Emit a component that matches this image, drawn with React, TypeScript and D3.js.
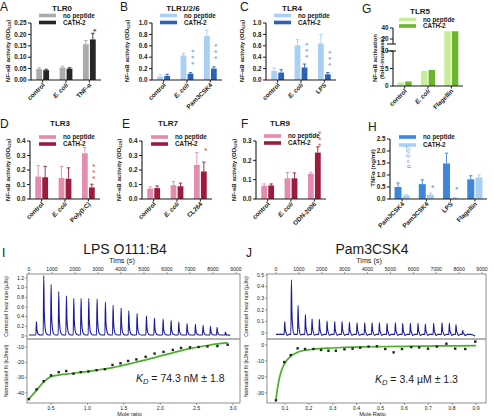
import React from "react";
import * as d3 from "d3";

const FONT = "'Liberation Sans', Arial, Helvetica, sans-serif";

// ---------------- Data: bar panels ----------------
const catsA = ["control", "E. coli", "TNF-α"];
const noPepA = [0.048, 0.054, 0.157];
const noPepErrA = [0.006, 0.006, 0.016];
const cathA = [0.043, 0.05, 0.178];
const cathErrA = [0.004, 0.004, 0.027];
const ticksA = [0, 0.05, 0.1, 0.15, 0.2, 0.25];

const catsB = ["control", "E. coli", "Pam3CSK4"];
const noPepB = [0.06, 0.43, 0.77];
const noPepErrB = [0.03, 0.04, 0.1];
const cathB = [0.07, 0.11, 0.2];
const cathErrB = [0.03, 0.02, 0.03];
const ticksB = [0, 0.2, 0.4, 0.6, 0.8, 1.0];

const catsC = ["control", "E. coli", "LPS"];
const noPepC = [0.16, 0.61, 0.64];
const noPepErrC = [0.05, 0.1, 0.16];
const cathC = [0.13, 0.22, 0.1];
const cathErrC = [0.05, 0.06, 0.03];

const catsG = ["control", "E. coli", "Flagellin"];
const noPepG = [1.0, 4.3, 34];
const cathG = [1.3, 4.6, 34];
const ticksGLow = [0, 5, 10];
const ticksGHigh = [20, 40];

const catsD = ["control", "E. coli", "Poly(I:C)"];
const noPepD = [0.155, 0.145, 0.315];
const noPepErrD = [0.075, 0.08, 0.04];
const cathD = [0.15, 0.14, 0.08];
const cathErrD = [0.075, 0.075, 0.022];
const ticksD = [0, 0.1, 0.2, 0.3, 0.4];

const catsE = ["control", "E. coli", "CL264"];
const noPepE = [0.072, 0.095, 0.235];
const noPepErrE = [0.012, 0.025, 0.085];
const cathE = [0.075, 0.088, 0.19];
const cathErrE = [0.015, 0.022, 0.065];

const catsF = ["control", "E. coli", "ODN-2006"];
const noPepF = [0.068, 0.107, 0.13];
const noPepErrF = [0.01, 0.03, 0.008];
const cathF = [0.07, 0.107, 0.24];
const cathErrF = [0.008, 0.028, 0.03];
const ticksF = [0, 0.1, 0.2, 0.3];

const catsH = ["Pam3CSK4", "Pam3CSK4", "LPS", "Flagellin"];
const noPepH = [0.5, 0.62, 1.48, 0.82];
const noPepErrH = [0.17, 0.18, 0.43, 0.15];
const cathH = [0.15, 0.18, 0.05, 0.9];
const cathErrH = [0.03, 0.07, 0.01, 0.1];
const ticksH = [0, 0.5, 1.0, 1.5, 2.0, 2.5];

const legendLabels = ["no peptide", "CATH-2"];

// ---------------- Data: ITC ----------------
const injTimesI = [304, 623, 942, 1275, 1609, 1928, 2246, 2580, 2942, 3304, 3638, 3986, 4319, 4681, 5087, 5435, 5812, 6159, 6493, 6855, 7217, 7551, 7870, 8159, 8522];
const injHeightsI = [0.28, 1.23, 1.05, 0.9, 0.81, 0.76, 0.76, 0.76, 0.75, 0.68, 0.62, 0.56, 0.5, 0.45, 0.4, 0.35, 0.33, 0.3, 0.27, 0.24, 0.22, 0.2, 0.18, 0.16, 0.06];
const moleI = [0.195, 0.3, 0.4, 0.5, 0.605, 0.709, 0.809, 0.909, 1.014, 1.127, 1.241, 1.345, 1.455, 1.559, 1.673, 1.8, 1.923, 2.045, 2.173, 2.286, 2.409, 2.527, 2.65, 2.786, 2.927];
const enthI = [-44.0, -37.7, -32.3, -28.5, -26.4, -25.7, -27.4, -26.4, -26.0, -25.1, -24.5, -21.7, -20.6, -19.1, -18.1, -16.4, -14.3, -13.2, -11.9, -10.6, -10.2, -10.0, -9.6, -9.4, -8.5];
const fitI = [-44.0, -38.3, -32.8, -29.3, -28.3, -27.7, -27.1, -26.5, -25.9, -25.1, -24.3, -23.4, -22.3, -21.2, -19.9, -18.4, -16.9, -15.3, -13.8, -12.4, -11.1, -10.0, -9.0, -8.0, -7.2];

const injTimesJ = [363, 655, 946, 1266, 1557, 1878, 2212, 2547, 2867, 3188, 3523, 3857, 4178, 4498, 4833, 5197, 5517, 5852, 6186, 6507, 6870, 7234, 7555, 7846, 8137];
const injHeightsJ = [0.11, 0.47, 0.25, 0.17, 0.135, 0.13, 0.115, 0.11, 0.11, 0.105, 0.1, 0.1, 0.1, 0.1, 0.095, 0.1, 0.095, 0.095, 0.095, 0.09, 0.095, 0.1, 0.095, 0.085, 0.035];
const moleJ = [0.062, 0.097, 0.124, 0.153, 0.184, 0.219, 0.251, 0.282, 0.313, 0.349, 0.383, 0.415, 0.45, 0.485, 0.52, 0.555, 0.59, 0.629, 0.662, 0.699, 0.736, 0.776, 0.813, 0.855, 0.897];
const enthJ = [-34.6, -10.7, -6.3, -2.1, -2.5, -2.5, -3.1, -3.6, -3.6, -2.7, -2.3, -1.7, -1.0, -0.8, -2.5, -4.6, -2.5, -1.3, -1.5, -2.3, -1.0, 0.8, -2.3, -2.5, 2.1];
const fitMoleJ = [0.062, 0.072, 0.082, 0.092, 0.105, 0.124, 0.153, 0.184, 0.219, 0.282, 0.35, 0.45, 0.6, 0.75, 0.9];
const fitJ = [-34.0, -24.0, -17.5, -13.5, -10.0, -7.0, -4.5, -3.3, -2.6, -1.9, -1.5, -1.1, -0.8, -0.6, -0.45];

const timeTicks = [0, 1000, 2000, 3000, 4000, 5000, 6000, 7000, 8000, 9000];

// ---------------- Types ----------------
type Star = { g: number; n: number; top: number };
type PanelCfg = {
  letter: string; lx: number; ly: number;
  title?: string; tx?: number; ty?: number;
  x0: number; w: number; yTop: number; yBot: number;
  y: (v: number) => number;
  ticks: number[]; fmt: (v: number) => string;
  cats: string[]; a: number[]; aErr?: number[]; b: number[]; bErr?: number[];
  ca: string; cb: string; bw: number; gap: number;
  legY: [number, number]; legX: number;
  ylab: React.ReactNode;
  stars: Star[]; starColor: string;
  broken?: boolean;
  extra?: React.ReactNode;
};

const TXT = "#1a1a1a";

function NFLabel({ x, y }: { x: number; y: number }) {
  return (
    <text transform={`translate(${x},${y}) rotate(-90)`} textAnchor="middle" fontSize={6.1} fontWeight="bold" fill={TXT}>
      NF-κB activity (OD<tspan fontSize={4.2} dy={1.4}>620</tspan><tspan dy={-1.4}>)</tspan>
    </text>
  );
}

function BarPanel({ c }: { c: PanelCfg }) {
  const x = d3.scaleBand<number>().domain(d3.range(c.cats.length)).range([c.x0, c.x0 + c.w]);
  const cx = (i: number) => (x(i) as number) + x.bandwidth() / 2;
  const base = c.y(0);
  const fs = 6.3;
  const bars: React.ReactNode[] = [];
  c.cats.forEach((_, i) => {
    const xa = cx(i) - c.gap / 2 - c.bw;
    const xb = cx(i) + c.gap / 2;
    [[xa, c.a[i], c.aErr?.[i], c.ca], [xb, c.b[i], c.bErr?.[i], c.cb]].forEach(([bx, v, e, col], k) => {
      const yv = c.y(v as number);
      bars.push(<rect key={`b${i}${k}`} x={bx as number} y={yv} width={c.bw} height={base - yv} fill={col as string} />);
      if (e !== undefined) {
        const ye = c.y((v as number) + (e as number));
        const mx = (bx as number) + c.bw / 2;
        bars.push(<line key={`e${i}${k}`} x1={mx} x2={mx} y1={yv} y2={ye} stroke={col as string} strokeWidth={0.9} />);
        bars.push(<line key={`c${i}${k}`} x1={mx - 1.7} x2={mx + 1.7} y1={ye} y2={ye} stroke={col as string} strokeWidth={0.9} />);
      }
    });
  });
  const sfs = 9;
  return (
    <g fontFamily={FONT}>
      <text x={c.lx} y={c.ly} fontSize={12} fill={TXT}>{c.letter}</text>
      {c.title && <text x={c.tx} y={c.ty} fontSize={8} fontWeight="bold" textAnchor="middle" fill={TXT}>{c.title}</text>}
      {[c.ca, c.cb].map((col, k) => (
        <g key={`l${k}`}>
          <rect x={c.legX} y={c.legY[k] - 1.8} width={17} height={3.6} fill={col} />
          <text x={c.legX + 24} y={c.legY[k] + 2.2} fontSize={fs} fontWeight="bold" fill={TXT}>{legendLabels[k]}</text>
        </g>
      ))}
      {bars}
      {c.broken ? (
        <g stroke={TXT} strokeWidth={1.1}>
          <line x1={c.x0} x2={c.x0} y1={c.y(40)} y2={c.y(11)} />
          <line x1={c.x0} x2={c.x0} y1={c.y(10)} y2={base} />
          <line x1={c.x0 - 6} x2={c.x0 + 3} y1={c.y(11)} y2={c.y(11)} />
          <line x1={c.x0 - 6} x2={c.x0 + 3} y1={c.y(10)} y2={c.y(10)} />
        </g>
      ) : (
        <line x1={c.x0} x2={c.x0} y1={c.yTop} y2={base} stroke={TXT} strokeWidth={1.1} />
      )}
      {c.ticks.map((t) => (
        <g key={`t${t}`}>
          <line x1={c.x0 - 3} x2={c.x0} y1={c.y(t)} y2={c.y(t)} stroke={TXT} strokeWidth={1} />
          <text x={c.x0 - 4.5} y={c.y(t) + 2.2} fontSize={fs} fontWeight="bold" textAnchor="end" fill={TXT}>{c.fmt(t)}</text>
        </g>
      ))}
      <line x1={c.x0 - 0.5} x2={c.x0 + c.w} y1={base} y2={base} stroke={TXT} strokeWidth={1.1} />
      {c.cats.map((cat, i) => (
        <g key={`x${i}`}>
          <line x1={cx(i)} x2={cx(i)} y1={base} y2={base + 2.5} stroke={TXT} strokeWidth={1} />
          <text transform={`translate(${cx(i) + 2.5},${base + 5.5}) rotate(-45)`} textAnchor="end" fontSize={fs} fontWeight="bold"
            fontStyle={cat === "E. coli" ? "italic" : "normal"} fill={TXT}>{cat}</text>
        </g>
      ))}
      {c.stars.map((s, si) => {
        const sx = cx(s.g) + c.gap / 2 + c.bw / 2 + 1.5;
        const yc = c.y(s.top) + (s.n - 1) * 3;
        return (
          <text key={`s${si}`} transform={`translate(${sx + sfs * 0.56},${yc}) rotate(-90)`} fontSize={sfs} textAnchor="middle"
            letterSpacing={2.6} fill={c.starColor}>{"*".repeat(s.n)}</text>
        );
      })}
      {c.ylab}
      {c.extra}
    </g>
  );
}

// ---------------- ITC ----------------
type ITCCfg = {
  letter: string; lx: number; ly: number; title: string; tx: number; ty: number;
  left: number; right: number; top: number; mid: number; bottom: number;
  time: d3.ScaleLinear<number, number>; heat: d3.ScaleLinear<number, number>;
  fit: d3.ScaleLinear<number, number>; mole: d3.ScaleLinear<number, number>;
  heatTicks: number[]; fitTicks: number[]; moleTicks: number[]; moleFmt: (v: number) => string;
  thermo: [number, number][];
  pm: number[]; pv: number[]; fm: number[]; fv: number[];
  kdVal: string; kdX: number; kdY: number; xlab: string; id: string;
};

function thermoPoints(times: number[], heights: number[], base: number, end: number, under: number, endBase: number) {
  const pts: [number, number][] = [[0, base]];
  times.forEach((t, i) => {
    const h = heights[i];
    pts.push([t - 6, base], [t + 18, base + h], [t + 40, base + h * 0.42], [t + 75, base + h * 0.14], [t + 125, base + h * 0.03 - under], [t + 210, base]);
  });
  pts.push([end - 200, base], [end, endBase]);
  return pts;
}

function ITCPanel({ c }: { c: ITCCfg }) {
  const fs = 5.1;
  const tline = d3.line<[number, number]>().x((d) => c.time(d[0])).y((d) => c.heat(d[1])).curve(d3.curveMonotoneX);
  const fline = d3.line<number>().x((_, i) => c.mole(c.fm[i])).y((v) => c.fit(v)).curve(d3.curveMonotoneX);
  const midX = (c.left + c.right) / 2;
  return (
    <g fontFamily={FONT} fill={TXT}>
      <defs>
        <clipPath id={`top${c.id}`}><rect x={c.left} y={c.top} width={c.right - c.left} height={c.mid - c.top} /></clipPath>
        <clipPath id={`bot${c.id}`}><rect x={c.left} y={c.mid} width={c.right - c.left} height={c.bottom - c.mid} /></clipPath>
      </defs>
      <text x={c.lx} y={c.ly} fontSize={12}>{c.letter}</text>
      <text x={c.tx} y={c.ty} fontSize={14} textAnchor="middle">{c.title}</text>
      <text x={c.tx - 3} y={c.top - 11} fontSize={7.2} textAnchor="middle">Tims (s)</text>
      {timeTicks.map((t) => (
        <g key={`tt${t}`}>
          <line x1={c.time(t)} x2={c.time(t)} y1={c.top} y2={c.top - 2} stroke="#444" strokeWidth={0.5} />
          <text x={c.time(t)} y={c.top - 3} fontSize={fs} textAnchor="middle">{t}</text>
        </g>
      ))}
      {c.heatTicks.map((t) => (
        <g key={`ht${t}`}>
          <line x1={c.left} x2={c.left - 2} y1={c.heat(t)} y2={c.heat(t)} stroke="#444" strokeWidth={0.5} />
          <text x={c.left - 3} y={c.heat(t) + 1.7} fontSize={fs} textAnchor="end">{t === 0 ? "0" : t.toFixed(1)}</text>
        </g>
      ))}
      {c.fitTicks.map((t) => (
        <g key={`ft${t}`}>
          <line x1={c.left} x2={c.left - 2} y1={c.fit(t)} y2={c.fit(t)} stroke="#444" strokeWidth={0.5} />
          <text x={c.left - 3} y={c.fit(t) + 1.7} fontSize={fs} textAnchor="end">{t}</text>
        </g>
      ))}
      {c.moleTicks.map((t) => (
        <g key={`mt${t}`}>
          <line x1={c.mole(t)} x2={c.mole(t)} y1={c.bottom} y2={c.bottom + 2} stroke="#444" strokeWidth={0.5} />
          <text x={c.mole(t)} y={c.bottom + 6.5} fontSize={fs} textAnchor="middle">{c.moleFmt(t)}</text>
        </g>
      ))}
      <text x={midX - 4} y={c.bottom + 12.5} fontSize={5.6} textAnchor="middle">{c.xlab}</text>
      <text transform={`translate(${c.left - 19},${(c.top + c.mid) / 2}) rotate(-90)`} fontSize={5.3} textAnchor="middle">Corrected heat rate (µJ/s)</text>
      <text transform={`translate(${c.left - 19},${(c.mid + c.bottom) / 2}) rotate(-90)`} fontSize={5.3} textAnchor="middle">Normalized fit (kJ/mol)</text>
      <path d={tline(c.thermo) ?? ""} fill="none" stroke="#1b1b9e" strokeWidth={1.1} clipPath={`url(#top${c.id})`} />
      <path d={fline(c.fv) ?? ""} fill="none" stroke="#4caf2c" strokeWidth={1.7} clipPath={`url(#bot${c.id})`} />
      {c.pm.map((m, i) => (
        <rect key={`p${i}`} x={c.mole(m) - 1.2} y={c.fit(c.pv[i]) - 1.2} width={2.4} height={2.4} fill="#222" />
      ))}
      <rect x={c.left} y={c.top} width={c.right - c.left} height={c.bottom - c.top} fill="none" stroke="#444" strokeWidth={0.6} />
      <line x1={c.left} x2={c.right} y1={c.mid} y2={c.mid} stroke="#9a9a9a" strokeWidth={1.5} />
      <text x={c.kdX} y={c.kdY} fontSize={10.5}>
        <tspan fontStyle="italic">K</tspan><tspan fontStyle="italic" fontSize={7.5} dy={2}>D</tspan><tspan dy={-2}>{` = ${c.kdVal}`}</tspan>
      </text>
    </g>
  );
}

// ---------------- Configs ----------------
const f2 = (v: number) => v.toFixed(2);
const f1 = (v: number) => v.toFixed(1);

const rowTop1 = 23, rowBot1 = 80, rowTop2 = 141, rowBot2 = 199;
const yA = d3.scaleLinear().domain([0, 0.25]).range([rowBot1, rowTop1]);
const yB = d3.scaleLinear().domain([0, 1]).range([rowBot1, rowTop1]);
const yG = d3.scaleLinear().domain([0, 10, 11, 40]).range([86, 51, 44, 28]);
const yD = d3.scaleLinear().domain([0, 0.4]).range([rowBot2, rowTop2]);
const yF = d3.scaleLinear().domain([0, 0.3]).range([rowBot2, rowTop2]);
const yH = d3.scaleLinear().domain([0, 2.5]).range([rowBot2, 139]);

const grey = ["#a9aca9", "#262626"];
const blue = ["#a9cff2", "#2c62b6"];
const green = ["#c7ee95", "#6cb52d"];
const red = ["#e38cad", "#9c1c3d"];
const hblue = ["#3d86dc", "#a8d0f4"];

const panels: PanelCfg[] = [
  {
    letter: "A", lx: 0, ly: 11, title: "TLR0", tx: 62, ty: 10.5,
    x0: 31, w: 70, yTop: rowTop1, yBot: rowBot1, y: yA, ticks: ticksA, fmt: f2,
    cats: catsA, a: noPepA, aErr: noPepErrA, b: cathA, bErr: cathErrA, ca: grey[0], cb: grey[1], bw: 5.8, gap: 1.2,
    legY: [15.5, 22.5], legX: 39, ylab: <NFLabel x={10} y={51} />,
    stars: [{ g: 2, n: 1, top: 0.224 }], starColor: "#222",
  },
  {
    letter: "B", lx: 120, ly: 11, title: "TLR1/2/6", tx: 183, ty: 10.5,
    x0: 152, w: 70, yTop: rowTop1, yBot: rowBot1, y: yB, ticks: ticksB, fmt: f1,
    cats: catsB, a: noPepB, aErr: noPepErrB, b: cathB, bErr: cathErrB, ca: blue[0], cb: blue[1], bw: 5.8, gap: 1.2,
    legY: [15.5, 22.5], legX: 160, ylab: <NFLabel x={129} y={51} />,
    stars: [{ g: 1, n: 3, top: 0.53 }, { g: 2, n: 3, top: 0.63 }], starColor: "#6f9fe0",
  },
  {
    letter: "C", lx: 240, ly: 11, title: "TLR4", tx: 292, ty: 10.5,
    x0: 266, w: 70, yTop: rowTop1, yBot: rowBot1, y: yB, ticks: ticksB, fmt: f1,
    cats: catsC, a: noPepC, aErr: noPepErrC, b: cathC, bErr: cathErrC, ca: blue[0], cb: blue[1], bw: 5.8, gap: 1.2,
    legY: [15.5, 22.5], legX: 274, ylab: <NFLabel x={244} y={51} />,
    stars: [{ g: 1, n: 3, top: 0.65 }, { g: 2, n: 3, top: 0.51 }], starColor: "#6f9fe0",
  },
  {
    letter: "G", lx: 362, ly: 13, title: "TLR5", tx: 420, ty: 14,
    x0: 393, w: 70, yTop: 28, yBot: 86, y: yG, ticks: [...ticksGLow, ...ticksGHigh], fmt: (v) => String(v),
    cats: catsG, a: noPepG, b: cathG, ca: green[0], cb: green[1], bw: 6.4, gap: 1.2,
    legY: [19.5, 26], legX: 399, broken: true,
    ylab: (
      <text transform={`translate(377,58) rotate(-90)`} textAnchor="middle" fontSize={6.1} fontWeight="bold" fill={TXT}>
        <tspan x={0} dy={0}>NF-κB activation</tspan>
        <tspan x={0} dy={6.8}>(fold-increase)</tspan>
      </text>
    ),
    stars: [], starColor: "#000",
  },
  {
    letter: "D", lx: 0, ly: 128, title: "TLR3", tx: 60, ty: 126,
    x0: 30, w: 70, yTop: rowTop2, yBot: rowBot2, y: yD, ticks: ticksD, fmt: f1,
    cats: catsD, a: noPepD, aErr: noPepErrD, b: cathD, bErr: cathErrD, ca: red[0], cb: red[1], bw: 5.8, gap: 1.2,
    legY: [137, 144], legX: 39, ylab: <NFLabel x={10} y={170} />,
    stars: [{ g: 2, n: 3, top: 0.24 }], starColor: "#d4557f",
  },
  {
    letter: "E", lx: 122, ly: 128, title: "TLR7", tx: 168, ty: 126,
    x0: 142, w: 70, yTop: rowTop2, yBot: rowBot2, y: yD, ticks: ticksD, fmt: f1,
    cats: catsE, a: noPepE, aErr: noPepErrE, b: cathE, bErr: cathErrE, ca: red[0], cb: red[1], bw: 5.8, gap: 1.2,
    legY: [137, 144], legX: 151, ylab: <NFLabel x={121} y={170} />,
    stars: [{ g: 2, n: 1, top: 0.35 }], starColor: "#d4557f",
  },
  {
    letter: "F", lx: 241, ly: 128, title: "TLR9", tx: 280, ty: 126,
    x0: 256, w: 70, yTop: rowTop2, yBot: rowBot2, y: yF, ticks: ticksF, fmt: f1,
    cats: catsF, a: noPepF, aErr: noPepErrF, b: cathF, bErr: cathErrF, ca: red[0], cb: red[1], bw: 5.8, gap: 1.2,
    legY: [136, 143], legX: 264, ylab: <NFLabel x={236} y={170} />,
    stars: [{ g: 2, n: 3, top: 0.35 }], starColor: "#d4557f",
  },
  {
    letter: "H", lx: 368, ly: 131,
    x0: 390, w: 97, yTop: 139, yBot: rowBot2, y: yH, ticks: ticksH, fmt: f1,
    cats: catsH, a: noPepH, aErr: noPepErrH, b: cathH, bErr: cathErrH, ca: hblue[0], cb: hblue[1], bw: 7, gap: 1.2,
    legY: [137, 145], legX: 399,
    ylab: (
      <text transform={`translate(375,168) rotate(-90)`} textAnchor="middle" fontSize={6.1} fontWeight="bold" fill={TXT}>TNFα (ng/ml)</text>
    ),
    stars: [{ g: 1, n: 1, top: 0.58 }, { g: 2, n: 1, top: 0.5 }], starColor: "#5b8fd9",
    extra: (
      <text transform={`translate(410,157) rotate(-90)`} textAnchor="middle" fontSize={6} fontStyle="italic" fill="#5b8fd9">p = 0.07</text>
    ),
  },
];

const itcI: ITCCfg = {
  id: "I", letter: "I", lx: 2, ly: 257, title: "LPS O111:B4", tx: 125, ty: 254,
  left: 27, right: 240, top: 274, mid: 339, bottom: 403,
  time: d3.scaleLinear().domain([0, 9000]).range([29, 236]),
  heat: d3.scaleLinear().domain([0, 1.2]).range([336, 278]),
  fit: d3.scaleLinear().domain([-10, -40]).range([347, 393]),
  mole: d3.scaleLinear().domain([0.5, 3.0]).range([51, 233]),
  heatTicks: [0, 0.2, 0.4, 0.6, 0.8, 1.0, 1.2], fitTicks: [-10, -20, -30, -40],
  moleTicks: [0.5, 1.0, 1.5, 2.0, 2.5, 3.0], moleFmt: f1,
  thermo: thermoPoints(injTimesI, injHeightsI, 0.02, 8750, 0, 0.015),
  pm: moleI, pv: enthI, fm: moleI, fv: fitI,
  kdVal: "74.3 nM ± 1.8", kdX: 136, kdY: 382, xlab: "Mole ratio",
};

const itcJ: ITCCfg = {
  id: "J", letter: "J", lx: 246, ly: 257, title: "Pam3CSK4", tx: 372, ty: 254,
  left: 267, right: 486, top: 274, mid: 339, bottom: 403,
  time: d3.scaleLinear().domain([0, 9000]).range([276, 482]),
  heat: d3.scaleLinear().domain([0, 0.5]).range([333, 275]),
  fit: d3.scaleLinear().domain([0, -30]).range([345, 393]),
  mole: d3.scaleLinear().domain([0.1, 0.9]).range([285, 476]),
  heatTicks: [0, 0.1, 0.2, 0.3, 0.4, 0.5], fitTicks: [0, -10, -20, -30],
  moleTicks: [0.1, 0.2, 0.3, 0.4, 0.5, 0.6, 0.7, 0.8, 0.9], moleFmt: f1,
  thermo: thermoPoints(injTimesJ, injHeightsJ, -0.012, 8700, 0.012, -0.025),
  pm: moleJ, pv: enthJ, fm: fitMoleJ, fv: fitJ,
  kdVal: "3.4 µM ± 1.3", kdX: 375, kdY: 383, xlab: "Mole Ratio",
};

export default function App() {
  return (
    <svg width={494} height={416} viewBox="0 0 494 416" style={{ position: "absolute", left: 0, top: 0, background: "#fff" }}>
      <rect x={0} y={0} width={494} height={416} fill="#fff" />
      {panels.map((p) => <BarPanel key={p.letter} c={p} />)}
      <ITCPanel c={itcI} />
      <ITCPanel c={itcJ} />
    </svg>
  );
}
